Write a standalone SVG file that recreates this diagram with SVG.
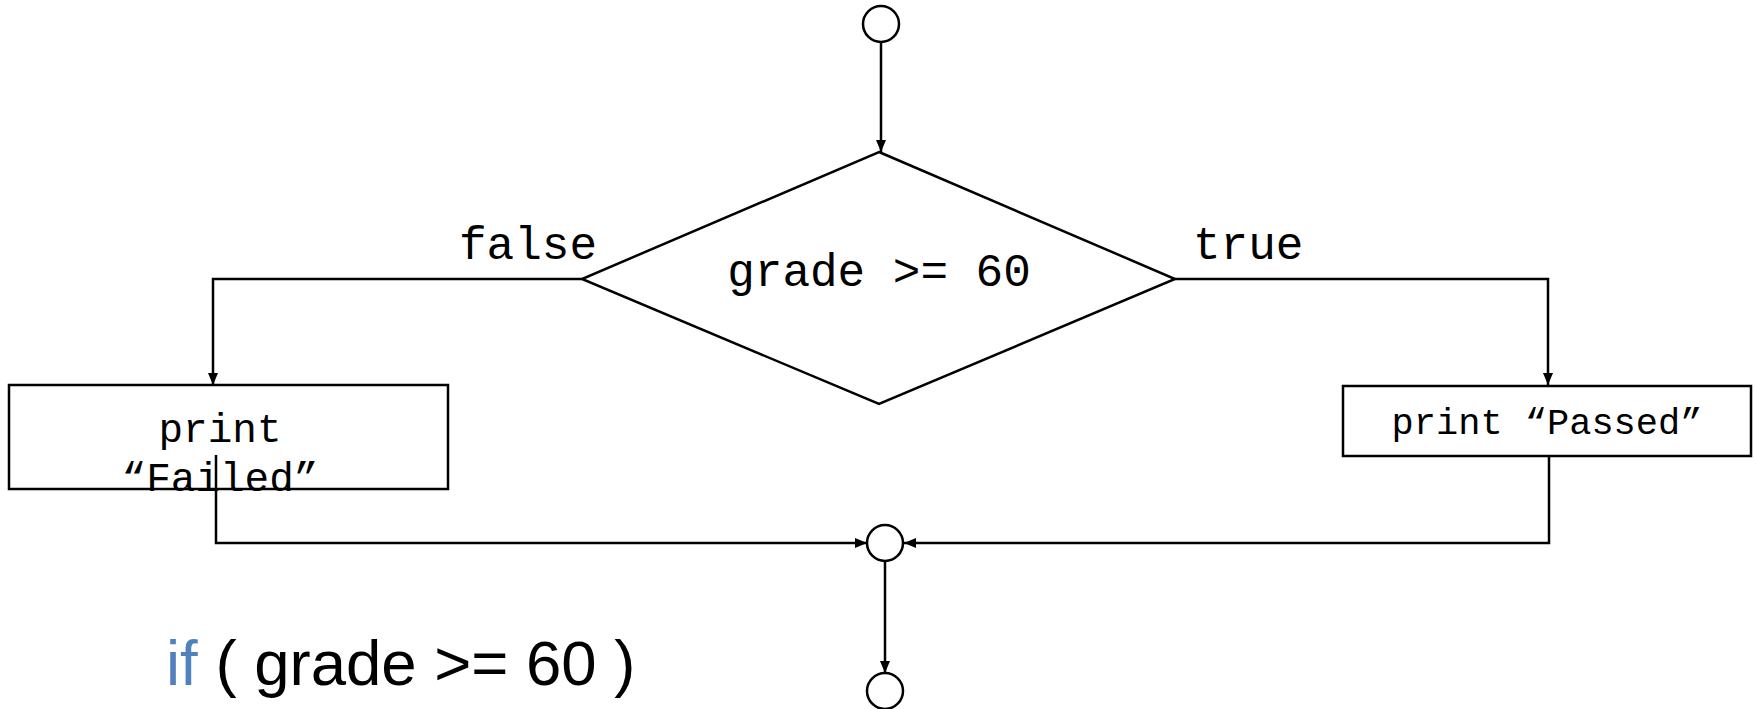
<svg xmlns="http://www.w3.org/2000/svg" width="1756" height="709" viewBox="0 0 1756 709">
  <style>
    .shape { fill: #ffffff; stroke: #000000; stroke-width: 2.5; }
    .wire { fill: none; stroke: #000000; stroke-width: 2.5; marker-end: url(#arrow); }
    .mono { font-family: "Liberation Mono", "Courier New", monospace; fill: #000000; }
    .code { font-family: "Liberation Sans", Arial, sans-serif; font-size: 63.5px; fill: #000000; }
    .kw { fill: #4F81BD; }
  </style>
  <defs>
    <marker id="arrow" markerUnits="userSpaceOnUse" markerWidth="13" markerHeight="11" refX="12" refY="5" orient="auto">
      <path d="M0,0 L12,5 L0,10 z" fill="#000000"/>
    </marker>
  </defs>

  <!-- start -->
  <g id="start">
    <circle class="shape" cx="881" cy="24" r="18"/>
  </g>

  <!-- decision -->
  <g id="decision">
    <polygon class="shape" points="879,152 1175,279 879,404 582,279"/>
    <text class="mono" x="879" y="286" font-size="46" text-anchor="middle">grade &gt;= 60</text>
  </g>

  <!-- branch labels -->
  <g id="labels">
    <text class="mono" x="459" y="259" font-size="46">false</text>
    <text class="mono" x="1193" y="259" font-size="46">true</text>
  </g>

  <!-- false branch action -->
  <g id="print-failed">
    <rect class="shape" x="9" y="385" width="439" height="104"/>
    <text class="mono" x="220" y="442" font-size="41" text-anchor="middle">print</text>
    <text class="mono" x="220" y="491" font-size="41" text-anchor="middle">“Failed”</text>
  </g>

  <!-- true branch action -->
  <g id="print-passed">
    <rect class="shape" x="1343" y="386" width="408" height="70"/>
    <text class="mono" x="1547" y="434" font-size="37" text-anchor="middle">print “Passed”</text>
  </g>

  <!-- merge -->
  <g id="merge">
    <circle class="shape" cx="885" cy="543" r="18"/>
  </g>

  <!-- end -->
  <g id="end">
    <circle class="shape" cx="885" cy="691" r="18"/>
  </g>

  <!-- connectors, drawn last so the failed-branch wire shows over its box -->
  <g id="connectors">
    <path class="wire" d="M881,43 V152"/>
    <path class="wire" d="M582,279 H213 V385"/>
    <path class="wire" d="M1175,279 H1548 V385"/>
    <path class="wire" d="M216,455 V543 H867"/>
    <path class="wire" d="M1549,456 V543 H904"/>
    <path class="wire" d="M885,561 V673"/>
  </g>

  <!-- source line -->
  <text class="code" x="166" y="685"><tspan class="kw">if</tspan> ( grade &gt;= 60 )</text>
</svg>
